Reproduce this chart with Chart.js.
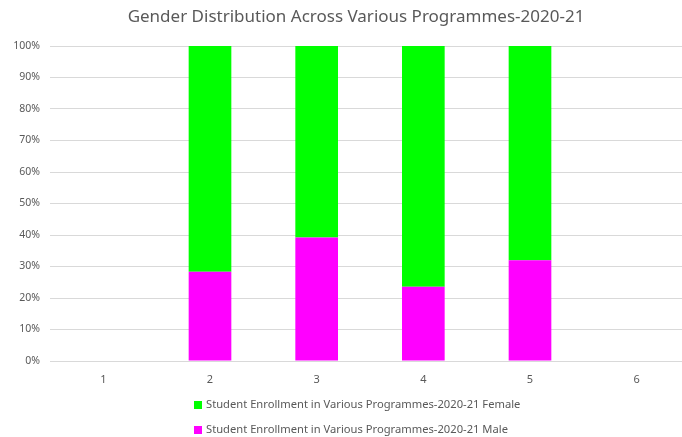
<!DOCTYPE html>
<html>
<head>
<meta charset="utf-8">
<script src="https://cdn.jsdelivr.net/npm/chart.js@4/dist/chart.umd.min.js"></script>
<style>
  html, body { margin: 0; padding: 0; background: #fff; overflow: hidden; }
  #wrap { position: relative; width: 712px; height: 437px; }
</style>
</head>
<body>
<div id="wrap"><canvas id="genderChart"></canvas></div>
<script>
const categories = ['1', '2', '3', '4', '5', '6'];
const maleShare = [null, 28.3, 39.2, 23.6, 32.0, null];
const femaleShare = [null, 71.7, 60.8, 76.4, 68.0, null];
const seriesNames = [
    'Student Enrollment in Various Programmes-2020-21 Male',
    'Student Enrollment in Various Programmes-2020-21 Female'
];
const chartTitle = 'Gender Distribution Across Various Programmes-2020-21';
const yTicks = [0, 10, 20, 30, 40, 50, 60, 70, 80, 90, 100];

const textGrey = '#595959';

// title and legend are drawn by hand so they sit where the original puts them:
// title centred over the whole picture, legend one entry per row, female first
const frameText = {
    id: 'frameText',
    afterDraw(chart) {
        const c = chart.ctx;
        c.save();
        c.fillStyle = textGrey;
        c.font = '17px "Noto Sans"';
        c.textAlign = 'center';
        c.textBaseline = 'middle';
        c.fillText(chartTitle, 356, 17);

        c.textAlign = 'left';
        c.font = '11.2px "Noto Sans"';
        chart.data.datasets.slice().reverse().forEach((ds, i) => {
            const y = 405 + i * 25;
            c.fillStyle = ds.backgroundColor;
            c.fillRect(194, y - 4, 8, 8);
            c.fillStyle = textGrey;
            c.fillText(ds.label, 206, y);
        });
        c.restore();
    }
};

const ctx = document.getElementById('genderChart');
new Chart(ctx, {
    type: 'bar',
    data: {
        labels: categories,
        datasets: [{
            label: seriesNames[0],
            data: maleShare,
            backgroundColor: '#ff00ff',
            borderWidth: 0
        }, {
            label: seriesNames[1],
            data: femaleShare,
            backgroundColor: '#00ff00',
            borderWidth: 0
        }]
    },
    options: {
        responsive: true,
        maintainAspectRatio: false,
        animation: false,
        layout: { padding: { top: 46, right: 22 } },
        datasets: {
            bar: { categoryPercentage: 1, barPercentage: 0.4 }
        },
        plugins: {
            legend: { display: false },
            tooltip: { enabled: false },
            title: { display: false }
        },
        scales: {
            x: {
                stacked: true,
                grid: { display: false },
                border: { display: false },
                ticks: { color: textGrey, font: { family: '"Noto Sans"', size: 11 }, padding: 4 },
                afterFit(scale) { scale.height = 76; }
            },
            y: {
                stacked: true,
                min: 0,
                max: 100,
                afterBuildTicks(scale) { scale.ticks = yTicks.map(v => ({ value: v })); },
                grid: { color: '#d9d9d9', drawTicks: false },
                border: { display: false },
                ticks: {
                    color: textGrey,
                    font: { family: '"Noto Sans"', size: 10.5 },
                    padding: 10,
                    callback: v => v + '%'
                },
                afterFit(scale) { scale.width = 50; }
            }
        }
    },
    plugins: [frameText]
});
</script>
</body>
</html>
